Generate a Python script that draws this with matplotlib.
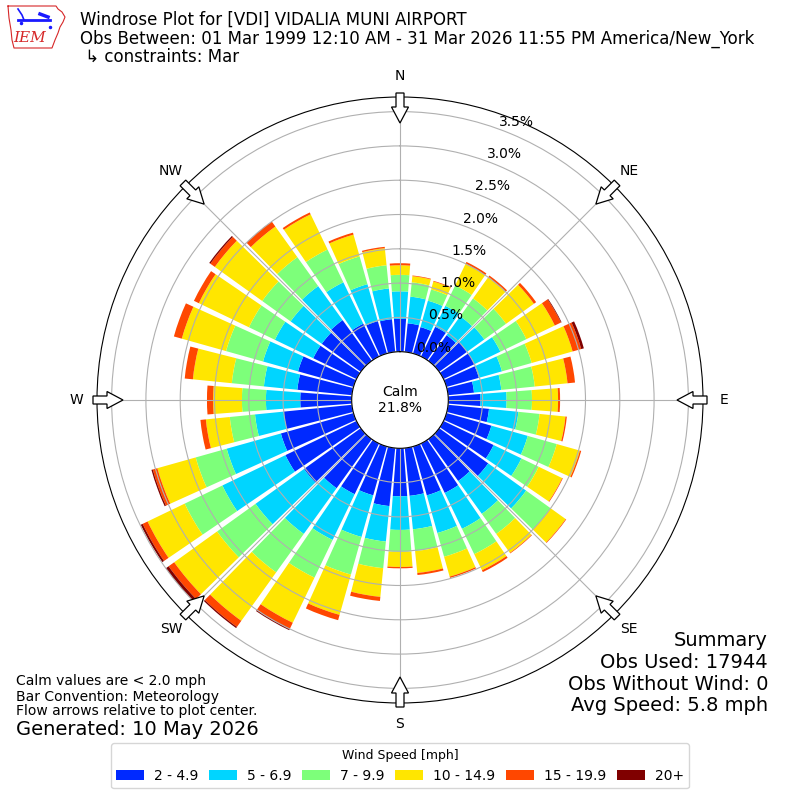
import matplotlib.pyplot as plt
import numpy as np
from matplotlib.patches import Polygon

# wind directions (degrees, from) and percent of obs per speed class
DIRECTIONS = np.arange(0, 360, 10)
SPEED_LABELS = ["2 - 4.9", "5 - 6.9", "7 - 9.9", "10 - 14.9", "15 - 19.9", "20+"]

PCT_2_5 = [0.48, 0.42, 0.40, 0.48, 0.46, 0.50, 0.50, 0.49, 0.38, 0.47, 0.60, 0.68,
           0.81, 0.88, 0.75, 0.80, 0.74, 0.70, 0.70, 0.85, 0.74, 0.82, 0.88, 1.02,
           1.15, 1.10, 1.00, 0.75, 0.80, 0.84, 0.70, 0.70, 0.73, 0.53, 0.49, 0.48]
PCT_5_7 = [0.40, 0.39, 0.40, 0.34, 0.34, 0.31, 0.42, 0.35, 0.40, 0.38, 0.43, 0.55,
           0.45, 0.68, 0.59, 0.58, 0.57, 0.49, 0.49, 0.52, 0.63, 0.74, 0.82, 0.87,
           1.02, 0.82, 0.42, 0.50, 0.49, 0.53, 0.62, 0.56, 0.61, 0.67, 0.56, 0.45]
PCT_7_10 = [0.24, 0.21, 0.17, 0.33, 0.32, 0.39, 0.42, 0.45, 0.49, 0.37, 0.31, 0.44,
            0.28, 0.44, 0.36, 0.41, 0.36, 0.32, 0.32, 0.39, 0.57, 0.61, 0.69, 0.69,
            0.61, 0.47, 0.37, 0.35, 0.47, 0.56, 0.42, 0.51, 0.52, 0.53, 0.42, 0.34]
PCT_10_15 = [0.14, 0.09, 0.12, 0.35, 0.38, 0.50, 0.46, 0.62, 0.48, 0.38, 0.38, 0.35,
             0.38, 0.27, 0.34, 0.26, 0.30, 0.32, 0.22, 0.42, 0.61, 0.73, 0.87, 0.77,
             0.60, 0.58, 0.35, 0.42, 0.57, 0.67, 0.81, 0.85, 0.55, 0.57, 0.33, 0.25]
PCT_15_20 = [0.03, 0.01, 0.01, 0.03, 0.03, 0.04, 0.10, 0.13, 0.11, 0.03, 0.02, 0.02,
             0.01, 0.01, 0.01, 0.03, 0.02, 0.03, 0.02, 0.06, 0.08, 0.10, 0.11, 0.10,
             0.08, 0.07, 0.08, 0.09, 0.12, 0.12, 0.08, 0.08, 0.09, 0.03, 0.03, 0.02]
PCT_20_UP = [0.00, 0.00, 0.00, 0.00, 0.00, 0.00, 0.01, 0.04, 0.00, 0.00, 0.00, 0.00,
             0.00, 0.00, 0.00, 0.00, 0.00, 0.00, 0.00, 0.00, 0.00, 0.02, 0.02, 0.05,
             0.03, 0.02, 0.00, 0.00, 0.00, 0.00, 0.00, 0.02, 0.00, 0.00, 0.00, 0.00]

CALM_PCT = 21.8
CARDINALS = ["N", "NE", "E", "SE", "S", "SW", "W", "NW"]

series = [PCT_2_5, PCT_5_7, PCT_7_10, PCT_10_15, PCT_15_20, PCT_20_UP]
colors = plt.cm.jet(np.linspace(0, 1, 7)[1:])

fig = plt.figure(figsize=(8, 8), dpi=100)
ax = fig.add_axes([0.12125, 0.12125, 0.7575, 0.7575], projection="polar")
ax.set_theta_zero_location("N")
ax.set_theta_direction(-1)

theta = np.deg2rad(DIRECTIONS)
width = np.deg2rad(10) * 0.86
base = np.zeros(len(DIRECTIONS))
for label, vals, color in zip(SPEED_LABELS, series, colors):
    vals = np.asarray(vals)
    ax.bar(theta, vals, width=width, bottom=base, color=color,
           label=label, linewidth=0)
    base += vals

ax.set_ylim(0, 3.713)
ax.set_rorigin(-0.704)
rticks = np.arange(0, 3.6, 0.5)
ax.set_yticks(rticks)
ax.set_yticklabels([f"{v:.1f}%" for v in rticks], fontsize=10)
ax.set_rlabel_position(20)
ax.set_xticks(np.deg2rad(np.arange(0, 360, 45)))
ax.set_xticklabels([])

ax.text(0.5, 0.5, f"Calm\n{CALM_PCT:.1f}%", transform=ax.transAxes,
        ha="center", va="center", fontsize=10)

# compass labels and flow arrows (pixel sizes relative to a 606px axes)
AX_PX = 606.0
for i, name in enumerate(CARDINALS):
    ang = np.deg2rad(i * 45)
    d = np.array([np.sin(ang), np.cos(ang)])
    p = np.array([np.cos(ang), -np.sin(ang)])
    lab = 0.5 + d * 324 / AX_PX
    ax.text(lab[0], lab[1], name, transform=ax.transAxes, ha="center",
            va="center", fontsize=10)
    pts = []
    for u, v in [(0, -4), (14, -4), (14, -8.5), (30, 0), (14, 8.5), (14, 4), (0, 4)]:
        xy = d * (307 - u) + p * v
        pts.append(0.5 + xy / AX_PX)
    ax.add_patch(Polygon(pts, closed=True, transform=ax.transAxes, fc="white",
                         ec="black", lw=0.9, clip_on=False, zorder=5))

fig.legend(loc="lower center", bbox_to_anchor=(0.5, 0.0145), ncol=6,
           title="Wind Speed [mph]", fontsize=10, title_fontsize=9,
           columnspacing=0.8, handletextpad=0.7, borderaxespad=0)

# header
fig.text(0.1, 1 - 25 / 800, "Windrose Plot for [VDI] VIDALIA MUNI AIRPORT",
         fontsize=12, va="baseline")
fig.text(0.1, 1 - 43.5 / 800,
         "Obs Between: 01 Mar 1999 12:10 AM - 31 Mar 2026 11:55 PM America/New_York",
         fontsize=12, va="baseline")
fig.text(0.1, 1 - 62 / 800, " \u21b3 constraints: Mar", fontsize=12, va="baseline")

# footer notes
for y, txt in [(685.5, "Calm values are < 2.0 mph"),
               (700.5, "Bar Convention: Meteorology"),
               (715.5, "Flow arrows relative to plot center.")]:
    fig.text(0.02, 1 - y / 800, txt, fontsize=10, va="baseline")
fig.text(0.02, 1 - 735 / 800, "Generated: 10 May 2026", fontsize=14, va="baseline")

for y, txt in [(646.5, "Summary"), (668, "Obs Used: 17944"),
               (689.5, "Obs Without Wind: 0"), (711, "Avg Speed: 5.8 mph")]:
    fig.text(0.96, 1 - y / 800, txt, fontsize=14, ha="right", va="baseline")

# rough IEM logo
lax = fig.add_axes([0, 1 - 52 / 800, 70 / 800, 52 / 800])
lax.set_xlim(0, 70)
lax.set_ylim(52, 0)
lax.axis("off")
outline_x = [8, 56, 58, 62, 65, 63, 60, 58, 55, 52, 14, 12, 11, 9, 8]
outline_y = [6, 6, 9, 12, 17, 22, 27, 33, 40, 48, 48, 40, 30, 18, 6]
lax.plot(outline_x, outline_y, color="#d62728", lw=0.8)
lax.plot([18, 50], [20, 20], color="#1a1aff", lw=2)
lax.plot([18, 22, 24], [9, 15, 20], color="#1a1aff", lw=1.2)
lax.plot([40, 48], [14, 17], color="#1a1aff", lw=2.5)
lax.plot([21, 50], [23, 27], ".", color="#1a1aff", ms=3)
lax.text(30, 38, "IEM", color="#d62728", fontsize=11, family="serif",
         style="italic", ha="center", va="center")

fig.savefig("out.png", dpi=100)
